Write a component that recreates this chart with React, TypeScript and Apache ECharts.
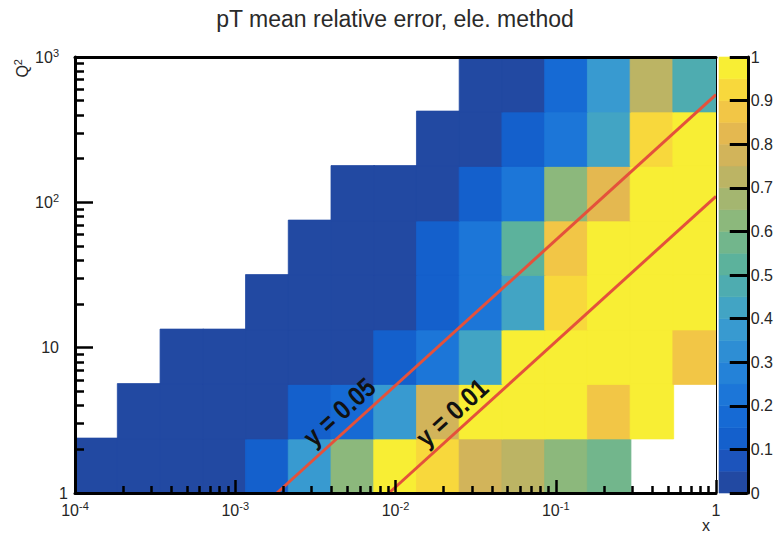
import React, { useEffect, useRef } from 'react';
import * as echarts from 'echarts';

const FONT = '"Liberation Sans", Arial, Helvetica, sans-serif';

// ---- binning (log-spaced bins) ----
const xBinCount = 15;
const xLogMin = -4;
const xLogMax = 0;
const q2BinCount = 8;
const q2LogMin = 0;
const q2LogMax = 3;

// ---- mean relative pT error per Q² bin (bottom → top), per x bin (left → right); null = empty ----
const q2Bin1 = [0.02, 0.02, 0.02, 0.02, 0.12, 0.35, 0.62, 0.96, 0.91, 0.78, 0.72, 0.64, 0.57, null, null];
const q2Bin2 = [null, 0.02, 0.02, 0.02, 0.02, 0.12, 0.17, 0.37, 0.77, 0.97, 0.97, 0.97, 0.87, 0.97, null];
const q2Bin3 = [null, null, 0.02, 0.02, 0.02, 0.02, 0.02, 0.12, 0.22, 0.41, 0.97, 0.97, 0.97, 0.97, 0.88];
const q2Bin4 = [null, null, null, null, 0.02, 0.02, 0.02, 0.02, 0.12, 0.22, 0.42, 0.93, 0.97, 0.97, 0.97];
const q2Bin5 = [null, null, null, null, null, 0.02, 0.02, 0.02, 0.12, 0.22, 0.52, 0.88, 0.97, 0.97, 0.97];
const q2Bin6 = [null, null, null, null, null, null, 0.02, 0.02, 0.02, 0.12, 0.22, 0.62, 0.82, 0.97, 0.97];
const q2Bin7 = [null, null, null, null, null, null, null, null, 0.02, 0.02, 0.1, 0.22, 0.42, 0.92, 0.97];
const q2Bin8 = [null, null, null, null, null, null, null, null, null, 0.02, 0.02, 0.17, 0.37, 0.72, 0.47];
const q2Rows = [q2Bin1, q2Bin2, q2Bin3, q2Bin4, q2Bin5, q2Bin6, q2Bin7, q2Bin8];

// ---- constant-y lines (x, Q²) endpoints ----
const lineY005 = [[0.00182, 1], [1, 550]];
const lineY001 = [[0.0091, 1], [1, 110]];
const lineLabelPos = [[0.00445, 3.62], [0.0225, 3.58]];
const lineLabelText = ['y = 0.05', 'y = 0.01'];

// ---- axis ticks ----
const xMajorTicks = [1e-4, 1e-3, 1e-2, 1e-1, 1];
const q2MajorTicks = [1, 10, 100, 1000];
const minorMultipliers = [2, 3, 4, 5, 6, 7, 8, 9];
const colorbarTicks = [0, 0.1, 0.2, 0.3, 0.4, 0.5, 0.6, 0.7, 0.8, 0.9, 1];

// ---- palette (20 contour levels) ----
const paletteLevels = [
  '#2249a2', '#1c54bc', '#1460cc', '#166ad4', '#1c76d8', '#2482d8', '#2e8ed4', '#389ad0', '#42a4c4', '#4eacb0',
  '#5cb29c', '#72b68c', '#8cb87c', '#a4b670', '#bcb464', '#d2b45a', '#e4b850', '#f2c646', '#f8d83c', '#f8ee34',
];

function levelColor(v: number) {
  const n = paletteLevels.length;
  const idx = Math.max(0, Math.min(n - 1, Math.floor(v * n)));
  return paletteLevels[idx];
}

function edges(count: number, lo: number, hi: number) {
  const out: number[] = [];
  for (let i = 0; i <= count; i++) out.push(Math.pow(10, lo + ((hi - lo) * i) / count));
  return out;
}

function minorTicks(majors: number[]) {
  const out: number[] = [];
  for (let i = 0; i < majors.length - 1; i++) minorMultipliers.forEach((m) => out.push(m * majors[i]));
  return out;
}

function powLabelX(v: number) {
  const e = Math.round(Math.log10(v));
  if (e === 0) return '{b|1}';
  if (e === 1) return '{b|10}';
  return `{b|10}{s|${e}}`;
}

function powLabelY(v: number) {
  const e = Math.round(Math.log10(v));
  if (e === 0) return '{b|1}';
  if (e === 1) return '{b|10}{g| }';
  return `{b|10}{s|${e}}{g| }`;
}

const TXT = '#262626';

const labelRich = {
  b: { fontSize: 16, fontFamily: FONT, color: TXT, lineHeight: 20 },
  s: { fontSize: 11, fontFamily: FONT, color: TXT, lineHeight: 11, verticalAlign: 'top' },
  g: { fontSize: 10, width: 9 },
};

export default function App() {
  const ref = useRef<HTMLDivElement>(null);

  useEffect(() => {
    if (!ref.current) return;
    const chart = echarts.init(ref.current, undefined, { renderer: 'svg' });

    const xEdges = edges(xBinCount, xLogMin, xLogMax);
    const q2Edges = edges(q2BinCount, q2LogMin, q2LogMax);
    const cellData: number[][] = [];
    q2Rows.forEach((row, j) =>
      row.forEach((v, i) => {
        if (v != null) cellData.push([xEdges[i], xEdges[i + 1], q2Edges[j], q2Edges[j + 1], v]);
      })
    );
    const barData = paletteLevels.map((_, i) => [i / paletteLevels.length, (i + 1) / paletteLevels.length, i]);

    const xMin = xMajorTicks[0];
    const xMax = xMajorTicks[xMajorTicks.length - 1];
    const yMin = q2MajorTicks[0];
    const yMax = q2MajorTicks[q2MajorTicks.length - 1];

    const option: any = {
      animation: false,
      grid: [
        { left: 75, top: 57, width: 641, height: 436, show: false },
        { left: 719, top: 57, width: 35, height: 436, show: false },
      ],
      graphic: [
        {
          type: 'text', x: 395, y: 19, z: 20,
          style: { text: 'pT mean relative error, ele. method', fontSize: 23, fontFamily: FONT, fill: '#2a2a2a', align: 'center', verticalAlign: 'middle' },
        },
        {
          type: 'text', x: 22, y: 59, rotation: Math.PI / 2, z: 20,
          style: {
            text: '{b|Q}{s|2}', align: 'right', verticalAlign: 'middle',
            rich: {
              b: { fontSize: 16, fontFamily: FONT, fill: TXT, lineHeight: 20 },
              s: { fontSize: 11, fontFamily: FONT, fill: TXT, lineHeight: 11, verticalAlign: 'top' },
            },
          },
        },
        {
          type: 'text', x: 706, y: 525, z: 20,
          style: { text: 'x', fontSize: 16, fontFamily: FONT, fill: TXT, align: 'center', verticalAlign: 'middle' },
        },
      ],
      xAxis: [
        {
          type: 'log', logBase: 10, min: xMin, max: xMax, gridIndex: 0, position: 'bottom', z: 10,
          axisLine: { show: true, onZero: false, lineStyle: { color: '#000', width: 3 } },
          axisTick: { show: true, inside: true, length: 13, lineStyle: { color: '#000', width: 2.5 }, customValues: xMajorTicks },
          axisLabel: { show: true, customValues: xMajorTicks, formatter: powLabelX, rich: labelRich, margin: 7 },
          splitLine: { show: false },
        },
        {
          type: 'log', logBase: 10, min: xMin, max: xMax, gridIndex: 0, position: 'bottom', z: 10,
          axisLine: { show: false },
          axisTick: { show: true, inside: true, length: 7, lineStyle: { color: '#000', width: 2.5 }, customValues: minorTicks(xMajorTicks) },
          axisLabel: { show: false },
          splitLine: { show: false },
        },
        {
          type: 'log', logBase: 10, min: xMin, max: xMax, gridIndex: 0, position: 'top', z: 10,
          axisLine: { show: true, onZero: false, lineStyle: { color: '#000', width: 3 } },
          axisTick: { show: false }, axisLabel: { show: false }, splitLine: { show: false },
        },
        { type: 'value', min: 0, max: 1, gridIndex: 1, show: false },
      ],
      yAxis: [
        {
          type: 'log', logBase: 10, min: yMin, max: yMax, gridIndex: 0, position: 'left', z: 10,
          axisLine: { show: true, onZero: false, lineStyle: { color: '#000', width: 3 } },
          axisTick: { show: true, inside: true, length: 18, lineStyle: { color: '#000', width: 2.5 }, customValues: q2MajorTicks },
          axisLabel: { show: true, customValues: q2MajorTicks, formatter: powLabelY, rich: labelRich, margin: 7 },
          splitLine: { show: false },
        },
        {
          type: 'log', logBase: 10, min: yMin, max: yMax, gridIndex: 0, position: 'left', z: 10,
          axisLine: { show: false },
          axisTick: { show: true, inside: true, length: 9, lineStyle: { color: '#000', width: 2.5 }, customValues: minorTicks(q2MajorTicks) },
          axisLabel: { show: false },
          splitLine: { show: false },
        },
        {
          type: 'log', logBase: 10, min: yMin, max: yMax, gridIndex: 0, position: 'right', z: 10,
          axisLine: { show: true, onZero: false, lineStyle: { color: '#000', width: 1 } },
          axisTick: { show: false }, axisLabel: { show: false }, splitLine: { show: false },
        },
        {
          type: 'value', min: 0, max: 1, interval: 0.1, gridIndex: 1, position: 'right', z: 10,
          axisLine: { show: true, onZero: false, lineStyle: { color: '#000', width: 3 } },
          axisTick: { show: true, inside: true, length: 18, lineStyle: { color: '#000', width: 3 }, customValues: colorbarTicks },
          axisLabel: {
            show: true, margin: 3, fontSize: 16, fontFamily: FONT, color: TXT, customValues: colorbarTicks,
            formatter: (v: number) => String(Math.round(v * 10) / 10),
          },
          splitLine: { show: false },
        },
      ],
      series: [
        {
          type: 'custom', xAxisIndex: 0, yAxisIndex: 0, data: cellData, clip: true, z: 2,
          encode: { x: [0, 1], y: [2, 3] },
          renderItem: (params: any, api: any) => {
            const p0 = api.coord([api.value(0), api.value(2)]);
            const p1 = api.coord([api.value(1), api.value(3)]);
            const c = levelColor(api.value(4));
            return {
              type: 'rect',
              shape: { x: p0[0] - 0.4, y: p1[1] - 0.4, width: p1[0] - p0[0] + 0.8, height: p0[1] - p1[1] + 0.8 },
              style: { fill: c, stroke: c, lineWidth: 0.8 },
            };
          },
        },
        {
          type: 'line', xAxisIndex: 0, yAxisIndex: 0, data: lineY005, symbol: 'none', z: 5,
          lineStyle: { color: '#e4513b', width: 3 },
        },
        {
          type: 'line', xAxisIndex: 0, yAxisIndex: 0, data: lineY001, symbol: 'none', z: 5,
          lineStyle: { color: '#e4513b', width: 3 },
        },
        {
          type: 'custom', xAxisIndex: 0, yAxisIndex: 0, data: lineLabelPos, z: 6,
          renderItem: (params: any, api: any) => {
            const p = api.coord([api.value(0), api.value(1)]);
            const a = api.coord([lineY005[0][0], lineY005[0][1]]);
            const b = api.coord([lineY005[1][0], lineY005[1][1]]);
            const ang = Math.atan2(a[1] - b[1], b[0] - a[0]);
            return {
              type: 'text', x: p[0], y: p[1], rotation: ang, scaleX: 0.88,
              style: {
                text: lineLabelText[params.dataIndex], fontSize: 27, fontWeight: 'bold', fontFamily: FONT,
                fill: '#111', align: 'center', verticalAlign: 'middle',
              },
            };
          },
        },
        {
          type: 'custom', xAxisIndex: 3, yAxisIndex: 3, data: barData, z: 2,
          renderItem: (params: any, api: any) => {
            const p0 = api.coord([0, api.value(0)]);
            const p1 = api.coord([1, api.value(1)]);
            const c = paletteLevels[params.dataIndex];
            return {
              type: 'rect',
              shape: { x: p0[0], y: p1[1], width: p1[0] - p0[0], height: p0[1] - p1[1] },
              style: { fill: c, stroke: c, lineWidth: 0.6 },
            };
          },
        },
      ],
    };

    chart.setOption(option);
    return () => chart.dispose();
  }, []);

  return <div ref={ref} style={{ position: 'absolute', left: 0, top: 0, width: 776, height: 533, background: '#fff' }} />;
}
